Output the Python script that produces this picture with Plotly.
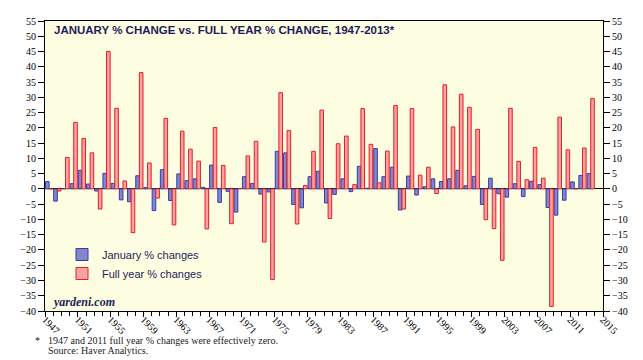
import plotly.graph_objects as go

years = list(range(1947, 2014))
january_pct = [2.4, -4.0, 0.1, 1.7, 6.1, 1.6, -0.7, 5.1, 1.8, -3.6,
               -4.2, 4.3, 0.4, -7.1, 6.3, -3.8, 4.9, 2.7, 3.3, 0.5,
               7.8, -4.4, -0.8, -7.6, 4.0, 1.8, -1.7, -1.0, 12.3, 11.8,
               -5.1, -6.2, 4.0, 5.8, -4.6, -1.8, 3.3, -0.9, 7.4, 0.2,
               13.2, 4.0, 7.1, -6.9, 4.2, -2.0, 0.7, 3.3, 2.4, 3.3,
               6.1, 1.0, 4.1, -5.1, 3.5, -1.6, -2.7, 1.7, -2.5, 2.5,
               1.4, -6.1, -8.6, -3.7, 2.3, 4.4, 5.0]
full_year_pct = [0.0, -0.7, 10.3, 21.8, 16.5, 11.8, -6.6, 45.0, 26.4, 2.6,
                 -14.3, 38.1, 8.5, -3.0, 23.1, -11.8, 18.9, 13.0, 9.1, -13.1,
                 20.1, 7.7, -11.4, 0.1, 10.8, 15.6, -17.4, -29.7, 31.5, 19.1,
                 -11.5, 1.1, 12.3, 25.8, -9.7, 14.8, 17.3, 1.4, 26.3, 14.6,
                 2.0, 12.4, 27.3, -6.6, 26.3, 4.5, 7.1, -1.5, 34.1, 20.3,
                 31.0, 26.7, 19.5, -10.1, -13.0, -23.4, 26.4, 9.0, 3.0, 13.6,
                 3.5, -38.5, 23.5, 12.8, 0.0, 13.4, 29.6]
x_tick_years = list(range(1947, 2016, 4))
y_ticks = list(range(-40, 56, 5))

navy = "#1c1c5a"
xpos = [y + 0.5 for y in years]

fig = go.Figure()
fig.add_trace(go.Bar(x=xpos, y=january_pct, name="January % changes",
                     marker=dict(color="#8585cc", line=dict(color="#2f3fa6", width=1))))
fig.add_trace(go.Bar(x=xpos, y=full_year_pct, name="Full year % changes",
                     marker=dict(color="#f6a3a3", line=dict(color="#ea1c24", width=1))))
# invisible trace so the right-hand axis is drawn
fig.add_trace(go.Scatter(x=[1947], y=[0], yaxis="y2", mode="markers",
                         marker=dict(opacity=0), showlegend=False, hoverinfo="skip"))

serif = "Liberation Serif, Times New Roman, serif"
sans = "Liberation Sans, Arial, sans-serif"

fig.update_layout(
    width=635, height=352,
    margin=dict(l=37, r=40, t=13, b=49, autoexpand=False),
    paper_bgcolor="white",
    plot_bgcolor="#fdfde2",
    barmode="group", bargap=0.12, bargroupgap=0.0,
    showlegend=True,
    legend=dict(x=(62 - 45) / 558, y=(311 - 240) / 290, xanchor="left", yanchor="top",
                bgcolor="rgba(0,0,0,0)", font=dict(family=sans, size=11, color=navy),
                tracegroupgap=0, itemwidth=30),
    xaxis=dict(range=[1947, 2015], tickvals=x_tick_years, ticktext=[str(v) for v in x_tick_years],
               tickangle=45, ticks="outside", ticklen=5, tickcolor="black",
               tickfont=dict(family=serif, size=10, color="black"),
               ticklabelstandoff=-7,
               minor=dict(dtick=1, tick0=1947, ticks="outside", ticklen=4, tickcolor="black"),
               showline=True, linecolor="black", linewidth=1, mirror=True,
               showgrid=False, zeroline=False, automargin=False),
    yaxis=dict(range=[-40, 55], tickvals=y_ticks, ticks="outside", ticklen=6, tickcolor="black",
               tickfont=dict(family=serif, size=10, color="black"),
               showline=True, linecolor="black", linewidth=1, showgrid=False,
               zeroline=True, zerolinecolor="black", zerolinewidth=1, automargin=False),
    yaxis2=dict(range=[-40, 55], tickvals=y_ticks, overlaying="y", side="right",
                ticks="outside", ticklen=6, tickcolor="black",
                tickfont=dict(family=serif, size=10, color="black"),
                showline=True, linecolor="black", linewidth=1, showgrid=False, zeroline=False,
                automargin=False),
)

fig.add_annotation(text="<b>JANUARY % CHANGE vs. FULL YEAR % CHANGE, 1947-2013*</b>",
                   xref="paper", yref="paper", x=(52 - 45) / 558, y=(311 - 30) / 290,
                   xanchor="left", yanchor="middle", showarrow=False,
                   font=dict(family=sans, size=11.5, color=navy))
fig.add_annotation(text="<b><i>yardeni.com</i></b>",
                   xref="paper", yref="paper", x=(50 - 45) / 558, y=(311 - 302) / 290,
                   xanchor="left", yanchor="middle", showarrow=False,
                   font=dict(family=serif, size=12, color=navy))
fig.add_annotation(text="*", xref="paper", yref="paper", x=(33 - 45) / 558, y=(311 - 340) / 290,
                   xanchor="left", yanchor="middle", showarrow=False,
                   font=dict(family=serif, size=10, color="#222"))
fig.add_annotation(text="1947 and 2011 full year % changes were effectively zero.",
                   xref="paper", yref="paper", x=(46 - 45) / 558, y=(311 - 340) / 290,
                   xanchor="left", yanchor="middle", showarrow=False,
                   font=dict(family=serif, size=10, color="#222"))
fig.add_annotation(text="Source: Haver Analytics.",
                   xref="paper", yref="paper", x=(46 - 45) / 558, y=(311 - 350) / 290,
                   xanchor="left", yanchor="middle", showarrow=False,
                   font=dict(family=serif, size=10, color="#222"))

fig.write_html("out.html")
